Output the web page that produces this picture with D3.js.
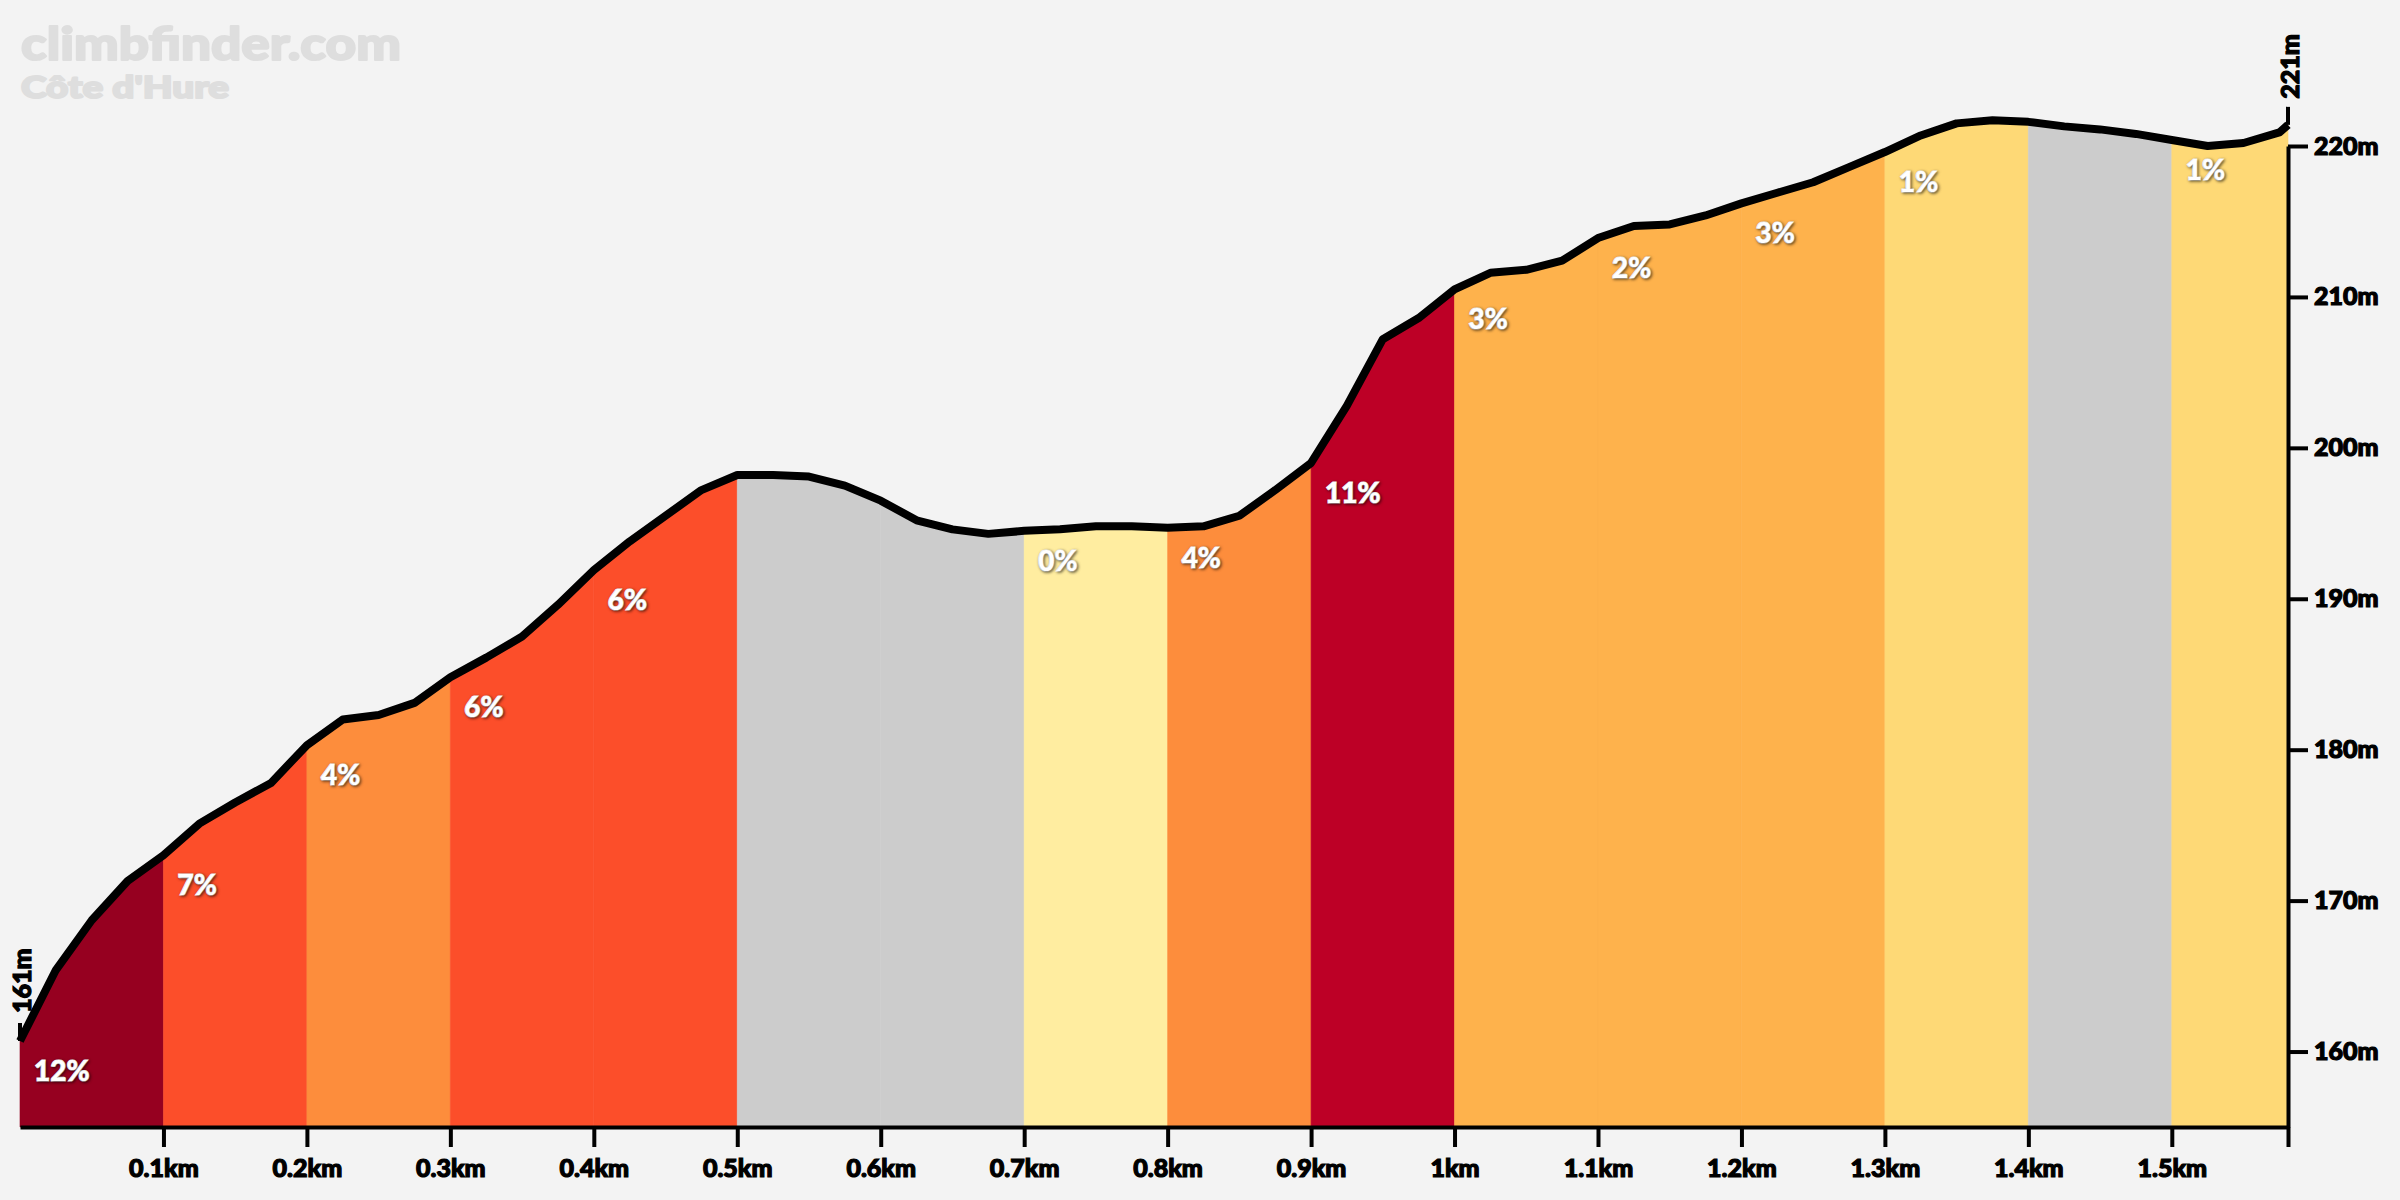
<!DOCTYPE html>
<html lang="fr">
<head>
  <meta charset="UTF-8" />
  <title>Côte d'Hure</title>
  <style>
  body {
    margin: 0;
    background: #f3f3f3;
  }
  svg text {
    font-family: Lato, 'Open Sans', sans-serif;
    font-weight: 900;
    paint-order: stroke;
  }
  .grade {
    fill: #fff;
    stroke: #fff;
    stroke-width: 1.2px;
    font-size: 28px;
    text-shadow: 1px 1px 3px rgba(0, 0, 0, 0.55);
  }
  .axis text {
    font-size: 25px;
    fill: #000;
    stroke: #000;
    stroke-width: 1.2px;
  }
  .axis path, .axis line {
    stroke: #000;
    stroke-width: 4px;
  }
  .mark {
    font-size: 25px;
    fill: #000;
    stroke: #000;
    stroke-width: 1.2px;
  }
  .wm {
    fill: #dedede;
    stroke: #dedede;
    stroke-width: 2px;
    stroke-linejoin: round;
  }
  </style>
</head>
<body>
<svg id="chart" width="2400" height="1200"></svg>
<script src="https://cdn.jsdelivr.net/npm/d3@7"></script>
<script>
// profile points (km, m)
const distances = [0, 0.025, 0.05, 0.075, 0.1, 0.125, 0.15, 0.175, 0.2, 0.225, 0.25, 0.275,
  0.3, 0.325, 0.35, 0.375, 0.4, 0.425, 0.45, 0.475, 0.5, 0.525, 0.55, 0.575,
  0.6, 0.625, 0.65, 0.675, 0.7, 0.725, 0.75, 0.775, 0.8, 0.825, 0.85, 0.875,
  0.9, 0.925, 0.95, 0.975, 1.0, 1.025, 1.05, 1.075, 1.1, 1.125, 1.15, 1.175,
  1.2, 1.225, 1.25, 1.275, 1.3, 1.325, 1.35, 1.375, 1.4, 1.425, 1.45, 1.475,
  1.5, 1.525, 1.55, 1.575, 1.581];
const elevations = [160.7, 165.4, 168.7, 171.3, 173.0, 175.1, 176.5, 177.8, 180.3, 182.0, 182.3, 183.1,
  184.8, 186.1, 187.5, 189.6, 191.9, 193.8, 195.5, 197.2, 198.2, 198.2, 198.1, 197.5,
  196.5, 195.2, 194.6, 194.3, 194.5, 194.6, 194.8, 194.8, 194.7, 194.8, 195.5, 197.2,
  199.0, 202.8, 207.2, 208.6, 210.5, 211.6, 211.8, 212.4, 213.9, 214.7, 214.8, 215.4,
  216.2, 216.9, 217.6, 218.6, 219.6, 220.7, 221.5, 221.7, 221.6, 221.3, 221.1, 220.8,
  220.4, 220.0, 220.2, 220.9, 221.4];

// 100 m sections and their gradients (negative = descent, no label)
const segStarts = [0, 0.1, 0.2, 0.3, 0.4, 0.5, 0.6, 0.7, 0.8, 0.9, 1.0, 1.1, 1.2, 1.3, 1.4, 1.5];
const grades = [12, 7, 4, 6, 6, -2, -2, 0, 4, 11, 3, 2, 3, 1, -1, 1];

const xTicks = [0.1, 0.2, 0.3, 0.4, 0.5, 0.6, 0.7, 0.8, 0.9, 1.0, 1.1, 1.2, 1.3, 1.4, 1.5];
const yTicks = [160, 170, 180, 190, 200, 210, 220];

const title = "climbfinder.com";
const subtitle = "Côte d'Hure";

const points = distances.map((d, i) => ({ d, e: elevations[i] }));
const totalKm = distances[distances.length - 1];

const svg = d3.select("#chart");

const x = d3.scaleLinear().domain([0, totalKm]).range([20, 2288]);
const y = d3.scaleLinear().domain([155, 220]).range([1127, 146]);

const color = d3.scaleThreshold()
  .domain([0, 1, 2, 4, 6, 10, 12])
  .range(["#cccccc", "#ffeda0", "#fed976", "#feb24c", "#fd8d3c", "#fc4e2a", "#bd0026", "#960020"]);

const area = d3.area().x(p => x(p.d)).y0(y(155)).y1(p => y(p.e));
const line = d3.line().x(p => x(p.d)).y(p => y(p.e));

// coloured sections
segStarts.forEach((s, i) => {
  const end = i < segStarts.length - 1 ? segStarts[i + 1] : totalKm;
  const pts = points.filter(p => p.d >= s - 1e-9 && p.d <= end + 1e-9);
  svg.append("path")
    .attr("d", area(pts))
    .attr("fill", color(grades[i]))
    .attr("stroke", color(grades[i]))
    .attr("stroke-width", 0.6);
});

// profile line
svg.append("path")
  .attr("d", line(points))
  .attr("fill", "none")
  .attr("stroke", "#000")
  .attr("stroke-width", 8)
  .attr("stroke-linejoin", "round");

// grade labels
segStarts.forEach((s, i) => {
  if (grades[i] < 0) return;
  const startEl = points.find(p => Math.abs(p.d - s) < 1e-9).e;
  svg.append("text")
    .attr("class", "grade")
    .attr("x", x(s) + 14)
    .attr("y", y(startEl) + 40)
    .text(`${grades[i]}%`);
});

// axes
svg.append("g")
  .attr("class", "axis")
  .attr("transform", `translate(0,${y(155)})`)
  .call(d3.axisBottom(x)
    .tickValues(xTicks.concat([totalKm]))
    .tickSize(20)
    .tickSizeOuter(0)
    .tickPadding(12)
    .tickFormat(d => d === totalKm ? "" : `${+d.toFixed(1)}km`));

svg.append("g")
  .attr("class", "axis")
  .attr("transform", `translate(${x(totalKm)},0)`)
  .call(d3.axisRight(y)
    .tickValues(yTicks)
    .tickSize(20)
    .tickSizeOuter(0)
    .tickPadding(6)
    .tickFormat(d => `${d}m`));

svg.selectAll(".axis .domain").attr("stroke-width", 4);

// start / end elevation markers
const first = points[0], last = points[points.length - 1];
[[first, 31, -28], [last, 2299, -26]].forEach(([p, tx, off]) => {
  svg.append("line")
    .attr("x1", x(p.d)).attr("x2", x(p.d))
    .attr("y1", y(p.e)).attr("y2", y(p.e) - 18)
    .attr("stroke", "#000").attr("stroke-width", 4);
  svg.append("text")
    .attr("class", "mark")
    .attr("transform", `translate(${tx},${y(p.e) + off}) rotate(-90)`)
    .text(`${Math.round(p.e)}m`);
});

// watermark titles
svg.append("text")
  .attr("class", "wm")
  .attr("x", 21).attr("y", 60)
  .attr("font-size", 46)
  .attr("textLength", 380)
  .attr("lengthAdjust", "spacingAndGlyphs")
  .text(title);
svg.append("text")
  .attr("class", "wm")
  .attr("x", 21).attr("y", 98)
  .attr("font-size", 31)
  .attr("textLength", 208)
  .attr("lengthAdjust", "spacingAndGlyphs")
  .text(subtitle);
</script>
</body>
</html>
